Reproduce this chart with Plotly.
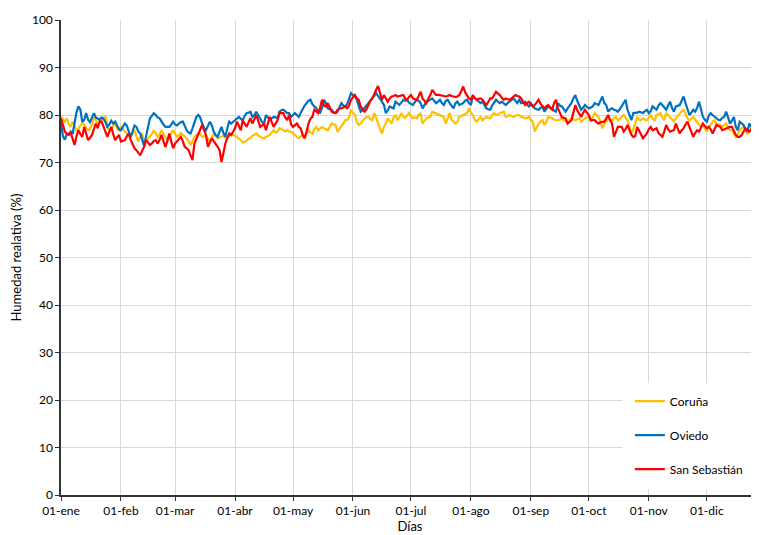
import plotly.graph_objects as go

# Humedad relativa media diaria (%), un valor por día del año (1 ene - 31 dic)
coruna = [
    79.8, 79.0, 78.6, 79.3, 78.0, 77.5, 78.6, 77.5, 76.8, 77.0, 77.8, 78.2, 78.0, 77.2, 76.8, 77.0, 78.0, 79.6, 78.8, 78.2, 78.5, 79.0, 79.3, 79.8, 77.5, 76.8, 77.0, 77.5, 78.2, 77.2, 76.8,
    77.5, 77.0, 76.5, 76.1, 75.8, 75.4, 76.0, 76.8, 75.5, 74.4, 75.5, 76.1, 74.0, 74.5, 75.0, 75.4, 76.0, 76.8, 76.0, 75.4, 76.0, 76.8, 76.0, 75.2, 74.7, 75.5, 76.1, 76.8,
    76.0, 75.4, 75.8, 76.2, 75.8, 75.5, 75.1, 74.5, 73.7, 74.5, 75.4, 75.8, 76.1, 76.0, 75.4, 75.6, 75.8, 75.0, 74.4, 75.2, 76.1, 75.6, 75.1, 75.3, 75.4, 75.6, 75.2, 75.1, 75.5, 75.8, 75.8,
    75.6, 75.4, 75.0, 74.7, 74.2, 74.4, 74.6, 75.0, 75.1, 75.6, 75.8, 76.1, 75.7, 75.4, 75.2, 75.1, 75.4, 75.6, 75.8, 76.4, 76.8, 76.3, 76.5, 77.2, 77.0, 76.8, 76.6, 76.8, 76.5, 76.5,
    76.2, 75.8, 75.4, 75.1, 75.5, 75.8, 75.1, 75.8, 76.8, 76.4, 76.1, 77.0, 77.5, 76.8, 77.2, 77.5, 77.2, 77.0, 76.8, 77.5, 78.2, 78.0, 77.9, 76.5, 77.0, 77.5, 78.2, 78.9, 78.9, 79.5, 81.1,
    80.5, 80.0, 78.5, 77.9, 78.2, 78.8, 79.3, 79.5, 79.6, 79.2, 78.9, 80.4, 79.5, 78.2, 77.0, 76.1, 77.5, 78.2, 79.3, 78.8, 78.2, 79.5, 80.0, 78.9, 79.5, 80.4, 79.6, 79.4, 79.8, 80.4,
    79.8, 79.3, 79.5, 79.3, 80.0, 80.4, 78.2, 78.8, 79.3, 79.5, 79.6, 80.7, 80.5, 80.4, 80.2, 80.0, 79.8, 79.6, 78.2, 79.5, 80.4, 79.0, 78.6, 78.2, 78.5, 79.6, 79.8, 80.0, 80.2, 80.4, 81.4,
    80.5, 80.0, 79.0, 78.6, 79.2, 79.6, 78.9, 79.2, 79.6, 79.4, 79.3, 80.0, 80.4, 80.0, 80.2, 80.4, 80.5, 80.7, 79.6, 79.8, 80.0, 79.8, 79.6, 79.8, 80.0, 80.0, 79.6, 79.5, 79.3, 79.4, 79.6,
    79.0, 78.6, 76.5, 77.5, 78.2, 78.6, 78.9, 77.9, 78.5, 79.6, 79.5, 79.3, 79.0, 78.9, 78.9, 79.0, 79.3, 78.9, 78.6, 78.6, 79.0, 79.3, 79.1, 78.9, 79.1, 79.3, 78.6, 79.0, 79.3, 79.5,
    79.6, 78.6, 79.5, 80.4, 80.0, 79.6, 78.5, 77.2, 78.0, 78.6, 79.3, 79.0, 78.9, 79.3, 79.6, 78.9, 79.2, 79.6, 80.0, 79.4, 78.9, 77.5, 76.1, 77.0, 78.2, 79.6, 79.0, 78.9, 79.3, 79.0, 78.9,
    79.5, 80.0, 79.2, 78.9, 80.0, 80.2, 80.4, 79.5, 78.9, 80.4, 80.0, 79.6, 79.0, 78.6, 79.3, 79.8, 80.4, 80.8, 81.1, 80.0, 79.3, 78.9, 79.2, 79.6, 79.0, 78.6, 78.0, 77.5, 78.2, 77.2,
    76.5, 77.5, 77.9, 78.6, 78.9, 78.2, 78.0, 77.9, 77.5, 77.8, 78.2, 77.5, 76.8, 76.8, 76.2, 75.4, 76.0, 76.8, 77.2, 77.5, 76.6, 76.1, 76.5, 77.0, 77.2, 77.5, 77.5, 77.2, 77.0, 77.3, 77.5,
]

oviedo = [
    78.5, 75.5, 74.8, 76.0, 75.8, 76.5, 76.0, 78.5, 80.5, 81.8, 81.2, 78.5, 79.0, 80.4, 79.0, 78.5, 79.5, 80.4, 79.5, 79.3, 79.0, 79.5, 79.2, 78.5, 77.5, 78.0, 78.8, 78.2, 78.6, 77.8, 77.0,
    76.8, 77.5, 78.2, 77.8, 76.5, 75.4, 76.5, 77.8, 77.5, 76.5, 76.1, 74.5, 73.5, 75.5, 77.8, 79.3, 79.8, 80.4, 80.0, 79.5, 79.3, 78.5, 78.0, 77.5, 77.5, 77.5, 78.0, 78.6,
    78.0, 77.8, 78.2, 78.5, 78.6, 77.5, 76.8, 76.3, 76.1, 77.2, 78.5, 79.6, 80.0, 79.5, 78.2, 77.3, 76.8, 77.8, 78.6, 77.8, 76.5, 75.8, 75.4, 76.5, 77.5, 76.2, 75.4, 77.2, 78.6, 78.2, 78.6,
    79.0, 79.3, 79.6, 79.2, 78.9, 79.8, 80.4, 80.5, 80.7, 79.6, 80.0, 80.7, 80.0, 79.3, 78.5, 78.2, 80.0, 79.5, 78.9, 79.3, 79.6, 79.5, 79.3, 80.7, 81.0, 81.1, 80.7, 80.4, 80.4, 79.6,
    80.0, 80.4, 80.0, 79.6, 80.5, 81.4, 82.0, 82.5, 83.0, 83.2, 82.3, 81.8, 81.5, 80.7, 80.5, 81.5, 83.2, 82.5, 81.4, 81.2, 81.1, 80.5, 80.4, 80.7, 81.5, 82.5, 82.0, 81.8, 82.3, 83.5, 84.6,
    84.2, 83.9, 83.2, 82.0, 80.7, 81.0, 81.4, 82.0, 82.5, 83.2, 83.6, 84.0, 84.6, 84.0, 83.5, 82.8, 82.1, 80.4, 81.0, 81.8, 81.6, 81.4, 82.8, 82.5, 82.1, 82.6, 83.2, 83.0, 83.2, 82.6,
    82.3, 82.1, 82.7, 83.2, 83.0, 82.5, 81.4, 82.0, 82.8, 83.0, 83.2, 83.5, 83.0, 82.5, 82.8, 83.2, 82.5, 82.1, 83.0, 83.2, 82.5, 81.8, 81.4, 82.5, 82.8, 82.1, 82.3, 82.5, 83.0, 83.2, 82.5,
    82.1, 83.9, 83.5, 83.2, 82.8, 82.5, 82.8, 82.0, 81.4, 81.2, 81.1, 82.0, 82.5, 83.2, 82.8, 82.5, 82.8, 82.5, 82.1, 82.5, 82.8, 83.2, 83.5, 83.0, 82.5, 83.2, 82.5, 82.6, 82.8, 82.2, 81.8,
    82.5, 82.0, 81.4, 81.2, 81.1, 81.5, 81.8, 80.7, 81.2, 81.8, 81.6, 81.4, 80.9, 80.7, 82.5, 82.0, 81.8, 81.2, 80.7, 81.4, 82.0, 82.5, 83.5, 84.2, 83.0, 82.1, 81.1, 81.5, 82.1, 81.7,
    81.4, 81.6, 81.8, 82.5, 82.3, 82.1, 83.0, 83.9, 82.5, 82.1, 80.7, 81.2, 81.4, 81.1, 81.0, 80.7, 81.2, 81.8, 82.5, 83.2, 81.1, 80.0, 78.9, 80.4, 80.4, 80.5, 80.7, 80.5, 80.4, 80.8, 81.1,
    80.4, 80.8, 81.8, 81.5, 81.1, 82.0, 82.5, 82.1, 81.5, 81.1, 82.0, 82.8, 81.5, 80.7, 81.8, 82.0, 82.1, 83.0, 83.9, 82.5, 81.0, 80.0, 80.5, 81.1, 80.7, 81.5, 82.8, 81.0, 79.6, 79.0,
    78.6, 79.8, 80.4, 80.0, 79.6, 79.3, 79.0, 78.9, 79.4, 79.6, 80.7, 79.5, 78.2, 78.8, 79.6, 77.5, 76.8, 78.6, 78.2, 77.9, 77.0, 76.5, 78.2, 77.5, 76.8, 77.5, 78.2, 77.8, 77.5, 78.0, 77.6,
]

san_sebastian = [
    79.3, 78.0, 76.5, 76.1, 76.0, 76.3, 75.0, 73.7, 75.5, 76.8, 76.0, 75.4, 77.5, 76.0, 74.7, 75.2, 75.8, 77.0, 78.2, 77.2, 78.6, 78.6, 77.5, 76.8, 75.4, 76.5, 77.5, 76.0, 74.7, 75.3, 75.8,
    74.4, 74.5, 74.7, 75.5, 76.1, 74.8, 73.7, 73.0, 72.6, 72.0, 71.5, 72.5, 73.3, 74.7, 74.2, 73.7, 74.0, 74.5, 74.7, 74.0, 74.8, 75.8, 74.5, 73.3, 74.5, 76.1, 74.5, 73.0,
    74.0, 74.5, 75.1, 75.4, 74.5, 73.3, 73.0, 72.6, 71.5, 70.5, 74.0, 75.0, 76.1, 77.0, 77.9, 76.8, 75.8, 73.3, 74.2, 75.1, 74.5, 74.0, 73.3, 72.6, 70.1, 72.0, 74.0, 75.2, 76.1, 75.8, 76.5,
    77.2, 78.6, 77.5, 76.8, 78.9, 78.2, 77.5, 78.5, 79.3, 78.2, 79.0, 80.0, 78.8, 77.5, 77.8, 78.2, 76.8, 78.0, 79.6, 78.5, 77.5, 78.2, 78.9, 80.4, 80.4, 80.4, 79.5, 78.9, 80.0, 78.0,
    77.5, 77.8, 78.2, 77.5, 77.2, 75.8, 75.1, 76.5, 78.2, 79.2, 79.6, 81.1, 80.8, 80.4, 81.5, 83.2, 82.0, 81.8, 82.5, 81.5, 80.7, 80.5, 80.4, 81.1, 81.2, 81.4, 81.6, 81.8, 81.4, 82.0, 83.2,
    83.8, 84.2, 83.5, 83.2, 81.8, 81.2, 80.7, 81.2, 82.1, 83.0, 83.5, 84.6, 85.3, 86.1, 84.5, 83.2, 84.2, 83.5, 82.8, 83.5, 83.9, 84.0, 84.2, 83.9, 84.0, 84.2, 84.2, 83.5, 83.2, 83.8,
    84.2, 83.5, 83.4, 83.2, 84.0, 84.9, 83.5, 83.0, 82.5, 83.5, 84.2, 85.3, 84.8, 84.2, 84.3, 84.2, 84.0, 83.9, 83.9, 84.0, 84.2, 84.0, 83.9, 83.8, 83.9, 84.2, 85.0, 86.0, 84.8, 84.2, 83.5,
    83.2, 84.2, 83.6, 83.2, 83.4, 83.5, 83.2, 82.6, 82.1, 82.8, 83.5, 83.5, 84.2, 84.9, 84.5, 84.2, 83.6, 83.2, 83.5, 83.4, 83.2, 83.5, 83.9, 84.2, 84.0, 83.9, 83.5, 82.8, 82.1, 82.5, 82.8,
    82.2, 81.8, 82.1, 82.6, 83.2, 82.4, 81.8, 81.4, 81.8, 82.1, 81.5, 81.1, 82.5, 83.2, 81.4, 80.5, 79.6, 79.4, 79.3, 78.2, 78.5, 78.9, 80.5, 82.1, 81.0, 80.4, 79.6, 80.4, 81.1, 80.5,
    80.0, 78.9, 78.9, 78.9, 78.5, 78.2, 78.5, 78.6, 78.6, 79.3, 80.0, 78.9, 78.2, 75.4, 76.5, 77.5, 77.5, 77.5, 76.5, 77.0, 77.9, 77.0, 75.8, 75.4, 75.6, 77.5, 76.8, 75.8, 75.1, 75.6, 76.1,
    77.0, 77.5, 76.8, 77.0, 77.2, 76.2, 75.8, 75.4, 76.5, 77.9, 77.0, 76.5, 76.7, 76.8, 78.2, 77.0, 76.1, 76.8, 77.2, 78.0, 78.6, 77.5, 76.5, 75.4, 76.2, 76.8, 76.5, 77.2, 78.2, 77.7,
    77.2, 77.5, 77.0, 76.1, 77.0, 77.9, 77.7, 77.5, 76.8, 77.0, 77.2, 77.4, 77.5, 77.5, 76.6, 75.8, 75.4, 75.4, 75.8, 76.5, 77.2, 76.8, 76.5, 77.0, 77.5, 77.4, 77.2, 77.0, 76.8, 77.2, 77.0,
]

# primer día de cada mes (día del año, 0 = 1 de enero)
month_starts = [0, 31, 59, 90, 120, 151, 181, 212, 243, 273, 304, 334]
month_labels = ["01-ene", "01-feb", "01-mar", "01-abr", "01-may", "01-jun",
                "01-jul", "01-ago", "01-sep", "01-oct", "01-nov", "01-dic"]

days = list(range(len(coruna)))
assert len(coruna) == len(oviedo) == len(san_sebastian) == 365

series = [
    ("Coruña", coruna, "#FFC000"),
    ("Oviedo", oviedo, "#0070C0"),
    ("San Sebastián", san_sebastian, "#FF0000"),
]

fig = go.Figure()
for name, values, color in series:
    fig.add_trace(go.Scatter(
        x=days, y=values, name=name, mode="lines", legendgroup=name,
        line=dict(color=color, width=2.2),
    ))

# white panel behind the legend, as in the original chart
fig.add_shape(
    type="rect", xref="paper", yref="paper",
    x0=0.804, x1=1.0, y0=0.012, y1=0.236,
    fillcolor="white", line=dict(width=0), layer="above",
)

font = "Lato, 'Open Sans', sans-serif"
# the page body adds an 8px margin, so the figure is a bit smaller than the window
fig.update_layout(
    width=751, height=527,
    margin=dict(l=53, r=0, t=12, b=40),
    paper_bgcolor="white", plot_bgcolor="white",
    font=dict(family=font, size=12, color="#000000"),
    showlegend=True,
    legend=dict(
        x=0.815, y=0.228, xanchor="left", yanchor="top",
        bgcolor="rgba(255,255,255,0)", font=dict(size=12, color="#000000"),
        tracegroupgap=15, itemwidth=30,
    ),
    xaxis=dict(
        range=[0, 361], tickvals=month_starts, ticktext=month_labels,
        showgrid=True, gridcolor="#D9D9D9", gridwidth=1,
        showline=True, linecolor="#333333", linewidth=1.5,
        ticks="outside", ticklen=4, tickcolor="#333333",
        tickfont=dict(size=12), zeroline=False,
        title=dict(text="Días", font=dict(size=13), standoff=4),
    ),
    yaxis=dict(
        range=[0, 100], dtick=10,
        showgrid=True, gridcolor="#D9D9D9", gridwidth=1,
        showline=True, linecolor="#333333", linewidth=1.5,
        ticks="outside", ticklen=4, tickcolor="#333333",
        tickfont=dict(size=12), zeroline=False,
        title=dict(text="Humedad realativa (%)", font=dict(size=13), standoff=10),
    ),
)

fig.write_html("out.html")
